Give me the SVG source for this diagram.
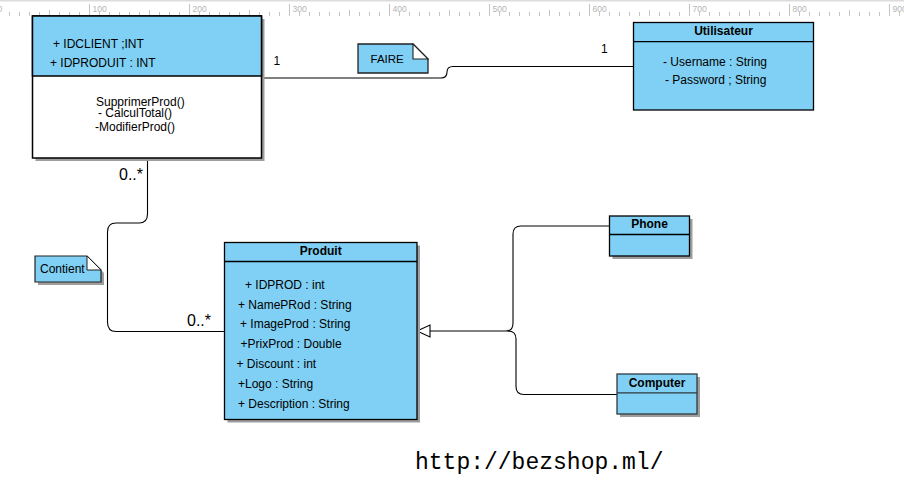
<svg xmlns="http://www.w3.org/2000/svg" width="904" height="485" viewBox="0 0 904 485">
<defs>
<style>
.t{font-family:"Liberation Sans",Arial,sans-serif;font-size:12px;fill:#000}
.b{font-weight:bold}
.m{text-anchor:middle}
.cls{fill:#7fd0f4;stroke:#000;stroke-width:1.3}
.sh{fill:#9e9e9e}
.conn{fill:none;stroke:#000;stroke-width:1.1}
.rl{font-family:"Liberation Sans",Arial,sans-serif;font-size:8.5px;fill:#b4b4b4}
.tick{stroke:#c4c4c4;stroke-width:1}
.mult{font-family:"Liberation Sans",Arial,sans-serif;font-size:16px;fill:#000}
</style>
<pattern id="ticks" patternUnits="userSpaceOnUse" x="9" y="0" width="10" height="17">
<line x1="0.5" y1="12" x2="0.5" y2="16" class="tick"/>
</pattern>
</defs>
<rect width="904" height="485" fill="#fff"/>
<g id="ruler">
<rect x="0" y="0" width="904" height="1.5" fill="#dcdcdc"/>
<rect x="0" y="0" width="904" height="17" fill="url(#ticks)"/>
<path class="tick" d="M49.5 10V16M149.5 10V16M249.5 10V16M349.5 10V16M449.5 10V16M549.5 10V16M649.5 10V16M749.5 10V16M849.5 10V16M89.5 4V16M189.5 4V16M289.5 4V16M389.5 4V16M489.5 4V16M589.5 4V16M689.5 4V16M789.5 4V16M889.5 4V16"/>
<text class="rl" x="-2.5" y="12">0</text>
<text class="rl" x="92.5" y="12">100</text>
<text class="rl" x="192.5" y="12">200</text>
<text class="rl" x="292.5" y="12">300</text>
<text class="rl" x="392.5" y="12">400</text>
<text class="rl" x="492.5" y="12">500</text>
<text class="rl" x="592.5" y="12">600</text>
<text class="rl" x="692.5" y="12">700</text>
<text class="rl" x="792.5" y="12">800</text>
<text class="rl" x="892.5" y="12">900</text>
</g>
<g id="connectors">
<path class="conn" d="M262 78H441Q447 78 447 72Q447 66.5 453 66.5H633"/>
<path class="conn" d="M147.5 158V214Q147.5 223 139 223H116Q107.5 223 107.5 232V322Q107.5 331.5 116 331.5H224"/>
<path class="conn" d="M609 226H521Q513 226 513 234V323Q513 331 506 331H430"/>
<path class="conn" d="M617 394.5H524Q516 394.5 516 386.5V339Q516 331 508 331"/>
<path d="M417 331L430 325V337Z" fill="#fff" stroke="#000" stroke-width="1.1"/>
<text class="t" x="273.5" y="65">1</text>
<text class="t" x="601" y="53">1</text>
<text class="mult" x="119" y="180">0..*</text>
<text class="mult" x="187" y="325.5">0..*</text>
</g>
<g id="panier">
<rect class="sh" x="35.5" y="19" width="229" height="142"/>
<rect x="32.5" y="16" width="229" height="142" fill="#fff" stroke="#000" stroke-width="1.5"/>
<rect x="32.5" y="16" width="229" height="60" fill="#7fd0f4" stroke="#000" stroke-width="1.5"/>
<text class="t" x="53" y="48">+ IDCLIENT ;INT</text>
<text class="t" x="50" y="66.5">+ IDPRODUIT : INT</text>
<text class="t" x="96" y="105.5">SupprimerProd()</text>
<text class="t" x="98" y="117">- CalculTotal()</text>
<text class="t" x="95" y="130.5">-ModifierProd()</text>
</g>
<g id="faire">
<path d="M358 44H413L428 59V73H358Z" fill="#7fd0f4" stroke="#222" stroke-width="1.3"/>
<path d="M413 44V59H428Z" fill="#fff" stroke="#222" stroke-width="1.1"/>
<text class="t" x="370.5" y="63.3" style="font-size:11.5px">FAIRE</text>
</g>
<g id="utilisateur">
<rect class="cls" x="633.5" y="22.5" width="180" height="87.5"/>
<line x1="633.5" y1="41.7" x2="813.5" y2="41.7" stroke="#000" stroke-width="1.3"/>
<text class="t b m" x="723.5" y="34.5">Utilisateur</text>
<text class="t" x="663" y="66.3">- Username : String</text>
<text class="t" x="665" y="84.3">- Password ; String</text>
</g>
<g id="contient">
<path class="sh" d="M38 259H90L104 273V285H38Z"/>
<path d="M35 256H87L101 270V282H35Z" fill="#7fd0f4" stroke="#222" stroke-width="1.2"/>
<path d="M87 256V270H101Z" fill="#fff" stroke="#222" stroke-width="1"/>
<text class="t" x="40" y="272.7">Contient</text>
</g>
<g id="produit">
<rect class="sh" x="227.5" y="245.5" width="192.5" height="177"/>
<rect class="cls" x="224.5" y="242.5" width="192.5" height="177"/>
<line x1="224.5" y1="261.5" x2="417" y2="261.5" stroke="#000" stroke-width="1.3"/>
<text class="t b m" x="320.7" y="254.5">Produit</text>
<text class="t" x="245" y="288.5">+ IDPROD : int</text>
<text class="t" x="238" y="309">+ NamePRod : String</text>
<text class="t" x="240" y="327.5">+ ImageProd : String</text>
<text class="t" x="240.5" y="347.5">+PrixProd : Double</text>
<text class="t" x="236.5" y="367.5">+ Discount : int</text>
<text class="t" x="238" y="387.5">+Logo : String</text>
<text class="t" x="238" y="407.5">+ Description : String</text>
</g>
<g id="phone">
<rect class="sh" x="612.5" y="219" width="80" height="40"/>
<rect class="cls" x="609.5" y="216" width="80" height="40"/>
<line x1="609.5" y1="234.5" x2="689.5" y2="234.5" stroke="#000" stroke-width="1.3"/>
<text class="t b m" x="649.5" y="228">Phone</text>
</g>
<g id="computer">
<rect class="sh" x="620" y="377" width="80" height="40"/>
<rect x="617" y="374" width="80" height="40" fill="#7fd0f4" stroke="#2f3a40" stroke-width="1.3"/>
<line x1="617" y1="392.8" x2="697" y2="392.8" stroke="#2f3a40" stroke-width="1.3"/>
<text class="t b m" x="657" y="386.7">Computer</text>
</g>
<text x="415" y="468.5" style="font-family:'Liberation Mono','DejaVu Sans Mono',monospace;font-size:23px;fill:#000">http://bezshop.ml/</text>
</svg>
